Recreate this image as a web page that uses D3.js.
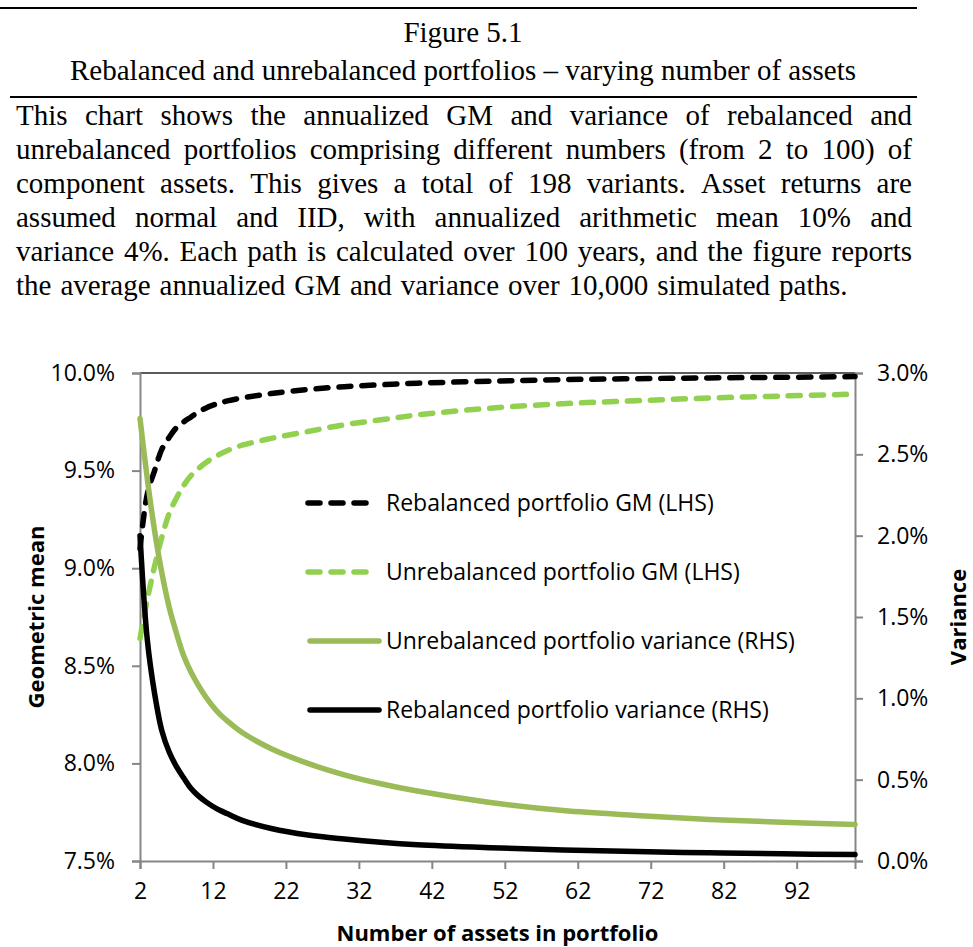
<!DOCTYPE html>
<html>
<head>
<meta charset="utf-8">
<script src="https://cdn.jsdelivr.net/npm/d3@7"></script>
<style>
  body { margin: 0; background: #fff; }
  svg { display: block; }
</style>
</head>
<body>
<script>
var nAssets = [2, 3, 4, 5, 6, 7, 8, 9, 10, 11, 12, 13, 14, 16, 20, 25, 30, 35, 40, 50, 60, 70, 80, 90, 100];
// geometric mean, % (left axis)
var rebalGM   = [9.10, 9.38, 9.50, 9.61, 9.67, 9.72, 9.75, 9.775, 9.80, 9.82, 9.835, 9.847, 9.857, 9.872, 9.895, 9.915, 9.93, 9.94, 9.948, 9.958, 9.966, 9.971, 9.975, 9.978, 9.982];
var unrebalGM = [8.64, 8.84, 9.01, 9.16, 9.28, 9.36, 9.425, 9.475, 9.51, 9.54, 9.565, 9.585, 9.603, 9.63, 9.665, 9.70, 9.735, 9.76, 9.785, 9.82, 9.843, 9.858, 9.872, 9.882, 9.892];
// variance, % (right axis)
var unrebalVar = [2.72, 2.35, 2.03, 1.77, 1.56, 1.40, 1.26, 1.16, 1.08, 1.01, 0.95, 0.90, 0.86, 0.79, 0.69, 0.60, 0.53, 0.475, 0.43, 0.36, 0.31, 0.28, 0.255, 0.238, 0.225];
var rebalVar   = [2.00, 1.36, 1.03, 0.80, 0.67, 0.58, 0.51, 0.445, 0.40, 0.365, 0.335, 0.31, 0.29, 0.25, 0.20, 0.16, 0.135, 0.115, 0.10, 0.082, 0.068, 0.058, 0.05, 0.044, 0.04];

var xTicks = [2, 12, 22, 32, 42, 52, 62, 72, 82, 92];
var leftTicks = [7.5, 8.0, 8.5, 9.0, 9.5, 10.0];
var rightTicks = [0, 0.5, 1.0, 1.5, 2.0, 2.5, 3.0];

var series = [
  { name: "Rebalanced portfolio GM (LHS)", values: rebalGM, axis: "L", color: "#000000", dash: true },
  { name: "Unrebalanced portfolio GM (LHS)", values: unrebalGM, axis: "L", color: "#92D050", dash: true },
  { name: "Unrebalanced portfolio variance (RHS)", values: unrebalVar, axis: "R", color: "#9BBB59", dash: false },
  { name: "Rebalanced portfolio variance (RHS)", values: rebalVar, axis: "R", color: "#000000", dash: false }
];

var title1 = "Figure 5.1";
var title2 = "Rebalanced and unrebalanced portfolios \u2013 varying number of assets";
var para = [
  "This chart shows the annualized GM and variance of rebalanced and",
  "unrebalanced portfolios comprising different numbers (from 2 to 100) of",
  "component assets. This gives a total of 198 variants. Asset returns are",
  "assumed normal and IID, with annualized arithmetic mean 10% and",
  "variance 4%. Each path is calculated over 100 years, and the figure reports",
  "the average annualized GM and variance over 10,000 simulated paths."
];

var W = 973, H = 947;
var svg = d3.select("body").append("svg").attr("width", W).attr("height", H);

// ---- header ----
var serif = "'Liberation Serif', 'Times New Roman', serif";
var serifSize = "29px";
svg.append("line").attr("x1", 0).attr("x2", 917).attr("y1", 8).attr("y2", 8)
  .attr("stroke", "#000").attr("stroke-width", 2);
svg.append("text").attr("x", 463).attr("y", 42).attr("text-anchor", "middle")
  .style("font-family", serif).style("font-size", serifSize).text(title1);
svg.append("text").attr("x", 463).attr("y", 80).attr("text-anchor", "middle")
  .style("font-family", serif).style("font-size", serifSize).text(title2);
svg.append("line").attr("x1", 10).attr("x2", 917).attr("y1", 97).attr("y2", 97)
  .attr("stroke", "#000").attr("stroke-width", 2);

// justified paragraph, word by word
var pLeft = 16, pRight = 912;
para.forEach(function (line, li) {
  var y = 125 + li * 34;
  var words = line.split(" ");
  var g = svg.append("g");
  var nodes = words.map(function (w) {
    return g.append("text").attr("y", y)
      .style("font-family", serif).style("font-size", serifSize).text(w);
  });
  var widths = nodes.map(function (t) { return t.node().getComputedTextLength(); });
  var total = d3.sum(widths);
  var gap = li < para.length - 1 ? (pRight - pLeft - total) / (words.length - 1) : 9;
  var xPos = pLeft;
  nodes.forEach(function (t, i) {
    t.attr("x", xPos);
    xPos += widths[i] + gap;
  });
});

// ---- chart ----
var plotLeft = 140, plotRight = 855, plotTop = 373, plotBottom = 861;
var sans = "'Open Sans', 'Noto Sans', sans-serif";
var axisColor = "#868686";

var x = d3.scaleLinear().domain([2, 100]).range([plotLeft, plotRight]);
var yL = d3.scaleLinear().domain([7.5, 10]).range([plotBottom, plotTop]);
var yR = d3.scaleLinear().domain([0, 3]).range([plotBottom, plotTop]);

// top border of plot area
svg.append("line").attr("x1", plotLeft).attr("x2", plotRight).attr("y1", plotTop).attr("y2", plotTop)
  .attr("stroke", "#262626").attr("stroke-width", 1.5);

function styleAxis(g) {
  g.select(".domain").attr("stroke", axisColor).attr("stroke-width", 2);
  g.selectAll(".tick line").attr("stroke", axisColor).attr("stroke-width", 2);
  g.selectAll(".tick text").attr("fill", "#000")
    .style("font-family", sans).style("font-size", "23px");
}

var pct = function (d) { return d3.format(".1f")(d) + "%"; };

svg.append("g").attr("transform", "translate(" + plotLeft + ",0)")
  .call(d3.axisLeft(yL).tickValues(leftTicks).tickFormat(pct).tickSizeOuter(0).tickSize(8).tickPadding(17))
  .call(styleAxis);

svg.append("g").attr("transform", "translate(" + plotRight + ",0)")
  .call(d3.axisRight(yR).tickValues(rightTicks).tickFormat(pct).tickSizeOuter(0).tickSize(8).tickPadding(14))
  .call(styleAxis);

svg.append("g").attr("transform", "translate(0," + plotBottom + ")")
  .call(d3.axisBottom(x).tickValues(xTicks).tickFormat(d3.format("d")).tickSizeOuter(0).tickSize(8).tickPadding(14))
  .call(styleAxis);

// axis titles
svg.append("text").attr("transform", "translate(44," + (plotTop + plotBottom) / 2 + ") rotate(-90)")
  .attr("text-anchor", "middle").style("font-family", sans).style("font-size", "22px")
  .style("font-weight", "bold").text("Geometric mean");
svg.append("text").attr("transform", "translate(966," + (plotTop + plotBottom) / 2 + ") rotate(-90)")
  .attr("text-anchor", "middle").style("font-family", sans).style("font-size", "22px")
  .style("font-weight", "bold").text("Variance");
svg.append("text").attr("x", (plotLeft + plotRight) / 2).attr("y", 941)
  .attr("text-anchor", "middle").style("font-family", sans).style("font-size", "22px")
  .style("font-weight", "bold").text("Number of assets in portfolio");

// lines
series.forEach(function (s) {
  var yScale = s.axis === "L" ? yL : yR;
  var line = d3.line()
    .x(function (d, i) { return x(nAssets[i]); })
    .y(function (d) { return yScale(d); })
    .curve(d3.curveCatmullRom.alpha(0.5));
  svg.append("path")
    .attr("d", line(s.values))
    .attr("fill", "none")
    .attr("stroke", s.color)
    .attr("stroke-width", 5.5)
    .attr("stroke-linecap", "round")
    .attr("stroke-linejoin", "round")
    .attr("stroke-dasharray", s.dash ? "12,11" : null);
});

// legend
var legY = [503, 572, 641, 710];
series.forEach(function (s, i) {
  var g = svg.append("g").attr("transform", "translate(0," + legY[i] + ")");
  g.append("line").attr("x1", s.dash ? 308 : 310).attr("x2", s.dash ? 374 : 379)
    .attr("y1", 0).attr("y2", 0)
    .attr("stroke", s.color).attr("stroke-width", 5.5)
    .attr("stroke-linecap", "round")
    .attr("stroke-dasharray", s.dash ? "12,11" : null);
  g.append("text").attr("x", 386).attr("y", 8)
    .style("font-family", sans).style("font-size", "23px").text(s.name);
});
</script>
</body>
</html>
